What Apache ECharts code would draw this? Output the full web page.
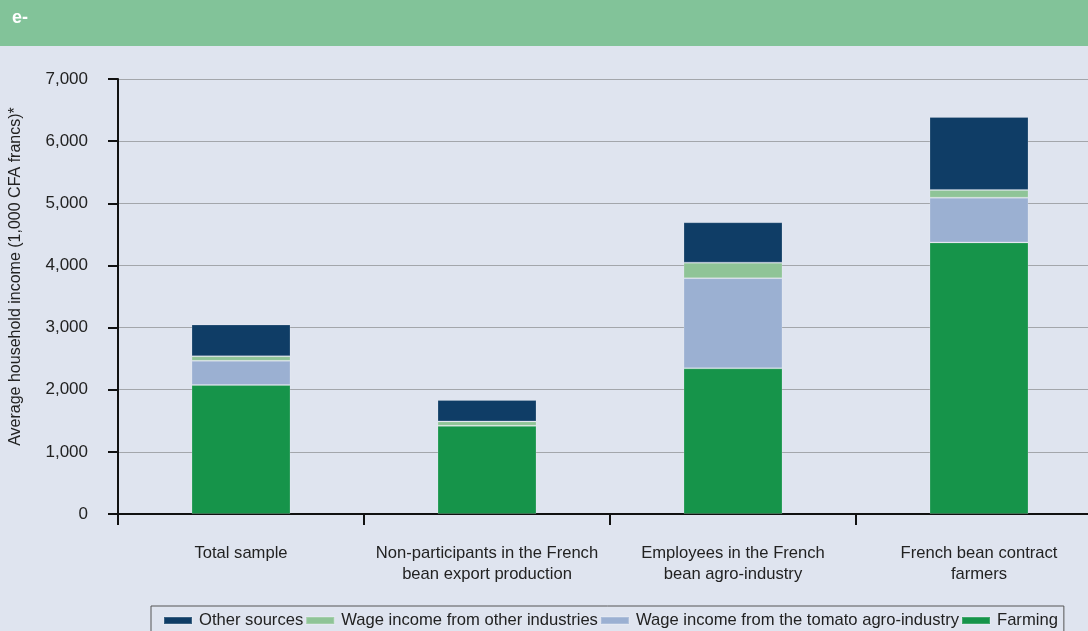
<!DOCTYPE html>
<html>
<head>
<meta charset="utf-8">
<script src="https://cdn.jsdelivr.net/npm/echarts@6/dist/echarts.min.js"></script>
<style>
  html, body { margin: 0; padding: 0; background: #dfe4ef; overflow: hidden; }
  /* the drawing surface runs a little past the right edge so the last category is cut */
  #chart { width: 1102px; height: 631px; }
</style>
</head>
<body>
<div id="chart"></div>
<script>
// Household income by group and source (1,000 CFA francs)
const categories = [
  'Total sample',
  'Non-participants in the French\nbean export production',
  'Employees in the French\nbean agro-industry',
  'French bean contract\nfarmers'
];
const farming = [2075, 1420, 2345, 4370];
const wageTomato = [390, 0, 1450, 720];
const wageOther = [75, 70, 250, 125];
const otherSources = [510, 345, 650, 1175];

const yTicks = { min: 0, max: 7000, interval: 1000 };

const colors = {
  farming: '#16944a',
  wageTomato: '#9bb0d2',
  wageOther: '#8fc497',
  otherSources: '#0f3d66'
};

const chart = echarts.init(document.getElementById('chart'));
const fontFamily = 'Liberation Sans, Arial, sans-serif';

function barSeries(name, data, color) {
  return {
    name: name,
    type: 'bar',
    stack: 'income',
    data: data,
    barWidth: 99,
    itemStyle: { color: color, borderColor: 'rgba(255,255,255,0.18)', borderWidth: 1 },
    emphasis: { disabled: true }
  };
}

chart.setOption({
  backgroundColor: '#dfe4ef',
  animation: false,
  textStyle: { fontFamily: fontFamily },
  graphic: [
    { type: 'rect', left: 0, top: 0, shape: { width: 1102, height: 46 }, style: { fill: '#82c399' }, z: 10 },
    { type: 'text', left: 12, top: 9, style: { text: 'e-', fill: '#ffffff', font: 'bold 18px ' + fontFamily }, z: 11 }
  ],
  grid: { left: 118, right: 0, top: 79, bottom: 117 },
  legend: {
    data: ['Other sources', 'Wage income from other industries', 'Wage income from the tomato agro-industry', 'Farming'],
    left: 151,
    top: 606,
    padding: [6, 6, 8, 12],
    itemGap: 2,
    itemWidth: 28,
    itemHeight: 7,
    icon: 'rect',
    borderColor: '#555555',
    borderWidth: 1,
    textStyle: { fontSize: 16.6, color: '#222222', fontFamily: fontFamily, padding: [0, 0, 0, 2] }
  },
  xAxis: {
    type: 'category',
    data: categories,
    boundaryGap: true,
    axisLine: { lineStyle: { color: '#111111', width: 2 } },
    axisTick: { show: true, alignWithLabel: false, length: 11, lineStyle: { color: '#111111', width: 2 } },
    axisLabel: { color: '#222222', fontSize: 16.6, margin: 29, lineHeight: 21, interval: 0 },
    splitLine: { show: false }
  },
  yAxis: {
    type: 'value',
    min: yTicks.min,
    max: yTicks.max,
    interval: yTicks.interval,
    name: 'Average household income (1,000 CFA francs)*',
    nameLocation: 'middle',
    nameRotate: 90,
    nameGap: 94,
    nameTextStyle: { fontSize: 16, color: '#222222', padding: [0, 0, 0, 40] },
    axisLine: { show: true, lineStyle: { color: '#111111', width: 2 } },
    axisTick: { show: true, length: 10, lineStyle: { color: '#111111', width: 2 } },
    axisLabel: {
      color: '#222222',
      fontSize: 17,
      margin: 30,
      formatter: v => v.toLocaleString('en-US')
    },
    splitLine: { show: true, lineStyle: { color: '#a3a6ab', width: 1 } }
  },
  series: [
    barSeries('Farming', farming, colors.farming),
    barSeries('Wage income from the tomato agro-industry', wageTomato, colors.wageTomato),
    barSeries('Wage income from other industries', wageOther, colors.wageOther),
    barSeries('Other sources', otherSources, colors.otherSources)
  ]
});
</script>
</body>
</html>
